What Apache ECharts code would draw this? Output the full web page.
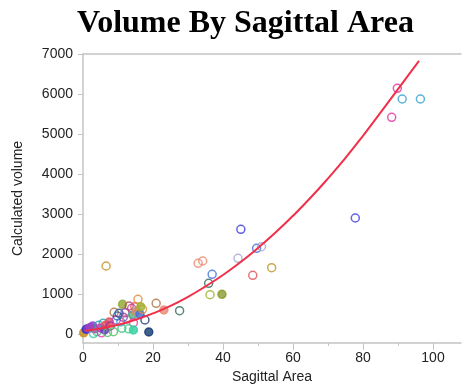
<!DOCTYPE html>
<html>
<head>
<meta charset="utf-8">
<script src="https://cdn.jsdelivr.net/npm/echarts@6/dist/echarts.min.js"></script>
<style>
  html, body { margin: 0; padding: 0; background: #fff; }
  #chart { width: 462px; height: 392px; }
</style>
</head>
<body>
<div id="chart"></div>
<script>
// measured points (sagittal area vs calculated volume)
const sagittalArea = [
  0.2, 0.9, 1.5, 2.2, 2.8, 3.3, 3.0, 4.0, 4.5, 5.0,
  5.3, 5.8, 6.2, 6.5, 7.0, 7.5, 7.8, 8.7, 8.9, 9.5,
  10.3, 10.8, 11.1, 11.3, 11.5, 12.0, 12.5, 13.2, 13.9, 14.2,
  14.4, 14.4, 14.8, 15.2, 15.7, 16.3, 17.0, 17.7, 18.8, 20.9,
  16.5, 9.8, 13.0, 6.6, 23.1, 27.6, 32.9, 34.2, 35.9, 36.3,
  36.9, 39.7, 44.3, 45.1, 48.5, 49.6, 51.0, 53.9, 77.8, 88.2,
  89.8, 91.2, 96.4
];
const calcVolume = [
  30, 117, 140, 170, 200, 130, 10, 60, 220, 150,
  30, 270, 100, 220, 40, 300, 200, 58, 542, 350,
  517, 300, 142, 742, 420, 533, 370, 700, 642, 475,
  283, 100, 680, 560, 867, 492, 617, 350, 50, 767,
  680, 450, 130, 1700, 600, 583, 1767, 1825, 1267, 983,
  1492, 992, 1892, 2617, 1467, 2142, 2183, 1658, 2900, 5418,
  6142, 5875, 5875
];
const specimenColor = [
  '#c8901c', '#3030d0', '#8040c0', '#a040c0', '#9048c8', '#b040b0', '#30d0a0', '#40c080', '#30a0c0', '#c040b0',
  '#e040b0', '#20a0a0', '#6040c0', '#e05060', '#50c060', '#e05060', '#a030a0', '#50c060', '#b07040', '#c040c0',
  '#20508a', '#30b0d0', '#40c080', '#90a830', '#8a40b0', '#8a40b0', '#e06080', '#c04070', '#c040a0', '#50b080',
  '#e040b0', '#30d0a0', '#e05050', '#d09070', '#e0883a', '#4070e0', '#e0883a', '#1a3a7a', '#103a70', '#b07040',
  '#a0b030', '#2060a0', '#40d090', '#c8901c', '#e88a70', '#2d6a5a', '#e88a70', '#e88a70', '#2d6a5a', '#a0b030',
  '#4070e0', '#8a9a30', '#a0a8d0', '#3a3ae0', '#e05050', '#4070e0', '#a0a8d0', '#c09020', '#3a3ae0', '#e030a0',
  '#e030a0', '#30a0c8', '#30a0c8'
];
const isFilled = [
  1, 1, 1, 1, 1, 1, 0, 0, 0, 1,
  0, 0, 1, 1, 0, 1, 0, 0, 0, 0,
  0, 0, 0, 1, 0, 0, 0, 0, 0, 1,
  0, 1, 0, 1, 0, 1, 0, 0, 1, 0,
  1, 0, 0, 0, 1, 0, 0, 0, 0, 0,
  0, 1, 0, 0, 0, 0, 0, 0, 0, 0,
  0, 0, 0
];

// fitted curve
const fitX = [0.5, 5, 10, 15, 20, 25, 30, 35, 40, 45, 50, 55, 60, 65, 70, 75, 80, 85, 90, 96];
const fitY = [80, 135, 230, 355, 515, 705, 930, 1190, 1475, 1795, 2150, 2535, 2955, 3405, 3890, 4405, 4955, 5535, 6120, 6830];

const yTicks = [0, 1000, 2000, 3000, 4000, 5000, 6000, 7000];
const xMajor = [0, 20, 40, 60, 80, 100];
const xMinor = [10, 30, 50, 70, 90];

const AXIS_GRAY = '#c4c4c4';
const TEXT = '#222';

const points = sagittalArea.map((x, i) => ({
  value: [x, calcVolume[i]],
  itemStyle: {
    color: isFilled[i] ? specimenColor[i] : 'rgba(255,255,255,0)',
    borderColor: specimenColor[i],
    borderWidth: 1.5,
  },
}));

const chart = echarts.init(document.getElementById('chart'));
chart.setOption({
  animation: false,
  backgroundColor: '#fff',
  title: {
    text: 'Volume By Sagittal Area',
    left: 72,
    top: 3,
    textStyle: { fontFamily: 'Liberation Serif', fontWeight: 'bold', fontSize: 32, color: '#000' },
  },
  grid: { left: 83, right: 1, top: 54, bottom: 49 },
  xAxis: [
    {
      type: 'value',
      min: 0,
      max: 108,
      position: 'bottom',
      name: 'Sagittal Area',
      nameLocation: 'middle',
      nameGap: 27,
      nameTextStyle: { fontFamily: 'Liberation Sans', fontSize: 14, color: TEXT },
      axisLine: { show: true, onZero: false, lineStyle: { color: AXIS_GRAY, width: 1.5 } },
      axisTick: { show: true, customValues: xMajor, length: 7, lineStyle: { color: AXIS_GRAY } },
      axisLabel: { customValues: xMajor, margin: 8, fontFamily: 'Liberation Sans', fontSize: 14, color: TEXT },
      splitLine: { show: false },
    },
    {
      type: 'value',
      min: 0,
      max: 108,
      position: 'bottom',
      axisLine: { show: false, onZero: false },
      axisTick: { show: true, customValues: xMinor, length: 3, lineStyle: { color: AXIS_GRAY } },
      axisLabel: { show: false },
      splitLine: { show: false },
    },
    {
      type: 'value',
      min: 0,
      max: 108,
      position: 'top',
      axisLine: { show: true, onZero: false, lineStyle: { color: AXIS_GRAY, width: 1.5 } },
      axisTick: { show: false },
      axisLabel: { show: false },
      splitLine: { show: false },
    },
  ],
  yAxis: {
    type: 'value',
    min: -225,
    max: 7000,
    name: 'Calculated volume',
    nameLocation: 'middle',
    nameGap: 58,
    nameTextStyle: { fontFamily: 'Liberation Sans', fontSize: 14, color: TEXT },
    axisLine: { show: true, onZero: false, lineStyle: { color: AXIS_GRAY, width: 1.5 } },
    axisTick: { show: true, customValues: yTicks, length: 5, lineStyle: { color: AXIS_GRAY } },
    axisLabel: {
      customValues: yTicks,
      margin: 10,
      formatter: (v) => String(v),
      fontFamily: 'Liberation Sans',
      fontSize: 14,
      color: TEXT,
    },
    splitLine: { show: false },
  },
  series: [
    {
      type: 'scatter',
      xAxisIndex: 0,
      symbol: 'circle',
      symbolSize: 8,
      data: points,
      z: 2,
    },
    {
      type: 'line',
      xAxisIndex: 0,
      data: fitX.map((x, i) => [x, fitY[i]]),
      smooth: true,
      showSymbol: false,
      lineStyle: { color: '#f0304a', width: 2 },
      z: 3,
    },
  ],
});
</script>
</body>
</html>
